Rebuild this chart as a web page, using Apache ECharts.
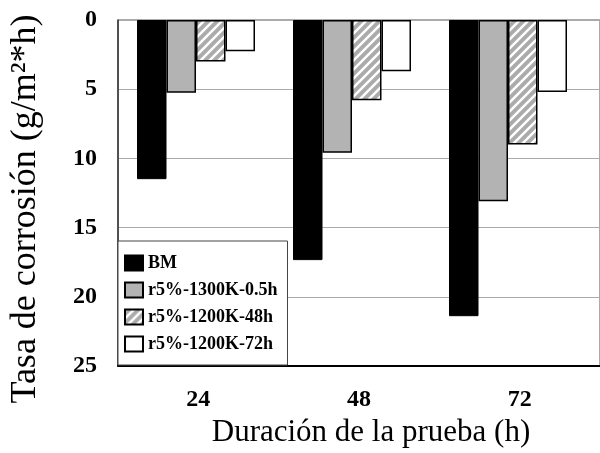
<!DOCTYPE html>
<html><head><meta charset="utf-8">
<script src="https://cdn.jsdelivr.net/npm/echarts@6/dist/echarts.min.js"></script>
<style>html,body{margin:0;padding:0;background:#fff}#c{width:600px;height:453px}</style>
</head><body><div id="c"></div>
<script>
const categories = ['24', '48', '72'];
const seriesNames = ['BM', 'r5%-1300K-0.5h', 'r5%-1200K-48h', 'r5%-1200K-72h'];
const bmValues = [11.5, 17.35, 21.4];
const r1300K05hValues = [5.25, 9.6, 13.1];
const r1200K48hValues = [3.0, 5.8, 9.0];
const r1200K72hValues = [2.25, 3.7, 5.2];
const yMin = 0, yMax = 25, yStep = 5;
const xTitle = 'Duración de la prueba (h)';
const yTitle = 'Tasa de corrosión (g/m²*h)';

function hatch() {
  const c = document.createElement('canvas');
  c.width = 9; c.height = 9;
  const g = c.getContext('2d');
  g.fillStyle = '#ababab'; g.fillRect(0, 0, 9, 9);
  g.strokeStyle = '#fff'; g.lineWidth = 2.5;
  g.beginPath();
  g.moveTo(-1, 10); g.lineTo(10, -1);
  g.moveTo(-1, 1); g.lineTo(1, -1);
  g.moveTo(8, 10); g.lineTo(10, 8);
  g.stroke();
  return c;
}

const serif = 'Liberation Serif';
const styles = [
  { color: '#000', borderColor: '#000', borderWidth: 1 },
  { color: '#b3b3b3', borderColor: '#000', borderWidth: 1.5 },
  { color: { image: hatch(), repeat: 'repeat' }, borderColor: '#000', borderWidth: 1.5 },
  { color: '#fff', borderColor: '#000', borderWidth: 1.5 }
];
const values = [bmValues, r1300K05hValues, r1200K48hValues, r1200K72hValues];

const chart = echarts.init(document.getElementById('c'), null, { renderer: 'canvas' });
chart.setOption({
  animation: false,
  backgroundColor: '#fff',
  grid: [
    { left: 118, top: 20, width: 468, height: 346 },
    { left: 118, top: 20, width: 498, height: 346, show: true, borderColor: '#555', borderWidth: 1 }
  ],
  xAxis: [
    { gridIndex: 0, type: 'category', data: categories, show: false },
    { gridIndex: 1, type: 'category', data: categories, position: 'bottom',
      axisLine: { onZero: false, lineStyle: { color: '#000', width: 2 } },
      axisTick: { show: false },
      axisLabel: { fontFamily: serif, fontWeight: 'bold', fontSize: 24, color: '#000', margin: 22 } }
  ],
  yAxis: [
    { gridIndex: 0, type: 'value', min: yMin, max: yMax, interval: yStep, inverse: true, show: false },
    { gridIndex: 1, type: 'value', min: yMin, max: yMax, interval: yStep, inverse: true,
      axisLine: { show: true, lineStyle: { color: '#333', width: 1.5 } },
      axisTick: { show: false },
      splitLine: { lineStyle: { color: '#aaa', width: 1 } },
      axisLabel: { fontFamily: serif, fontWeight: 'bold', fontSize: 24, color: '#000', margin: 21 } }
  ],
  legend: {
    orient: 'vertical', left: 118, top: 241, padding: [13, 10, 12, 6],
    itemWidth: 18, itemHeight: 15, itemGap: 9, icon: 'rect',
    backgroundColor: '#fff', borderColor: '#444', borderWidth: 1,
    textStyle: { fontFamily: serif, fontWeight: 'bold', fontSize: 18, color: '#000', lineHeight: 18 },
    data: seriesNames
  },
  graphic: [{
    type: 'text', x: 26, y: 209, rotation: Math.PI / 2,
    style: { text: yTitle, font: '36px "Liberation Serif"', fill: '#000',
      align: 'center', verticalAlign: 'middle', textAlign: 'center', textVerticalAlign: 'middle' }
  }, {
    type: 'text', x: 371, y: 433,
    style: { text: xTitle, font: '31px "Liberation Serif"', fill: '#000',
      align: 'center', verticalAlign: 'middle', textAlign: 'center', textVerticalAlign: 'middle' }
  }],
  series: seriesNames.map((name, i) => ({
    name: name, type: 'bar', xAxisIndex: 0, yAxisIndex: 0,
    barWidth: 29.5, barGap: '0%',
    data: values[i], itemStyle: styles[i]
  }))
});
</script></body></html>
